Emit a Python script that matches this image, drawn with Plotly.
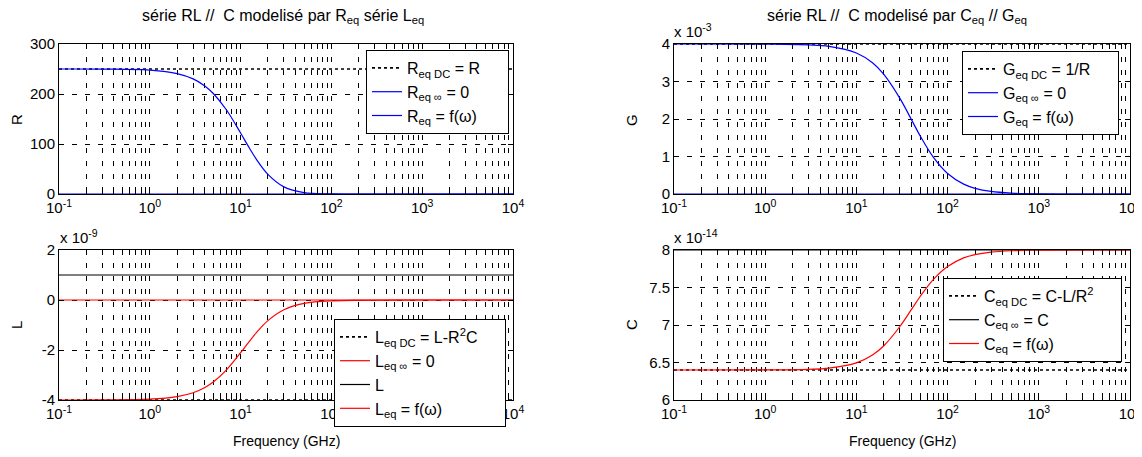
import plotly.graph_objects as go

# ---------------- data ----------------
freq_RL = [0.1, 0.3, 1, 2, 3, 4, 5, 7, 10, 12, 15, 20, 30, 50, 100, 1000, 10000]
req = [250, 249.8, 247.7, 240.8, 230.2, 216.6, 201, 168, 122, 97.2, 68.7, 39.2, 14.2, 2.87, 0.23, 0, 0]
leq = [-4.0, -3.997, -3.966, -3.865, -3.709, -3.509, -3.282, -2.792, -2.108, -1.733, -1.295,
       -0.824, -0.389, -0.137, -0.033, 0, 0]            # x 1e-9

freq_GC = [0.1, 1, 3, 5, 10, 15, 20, 30, 40, 50, 70, 100, 150, 200, 300, 500, 1000, 10000]
geq = [4, 3.997, 3.977, 3.938, 3.762, 3.50, 3.19, 2.55, 1.99, 1.551, 0.977, 0.547, 0.263,
       0.152, 0.069, 0.025, 0.0063, 0]                   # x 1e-3
ceq = [6.4, 6.401, 6.409, 6.425, 6.495, 6.6, 6.724, 6.98, 7.204, 7.38, 7.609, 7.781, 7.895,
       7.939, 7.972, 7.99, 7.9975, 8]                    # x 1e-14

f_span = [0.1, 10000]
R_dc, R_inf = 250, 0
L_dc, L_inf, L_val = -4, 0, 1
G_dc, G_inf = 4, 0
C_dc, C_inf = 6.4, 8

x_tickvals = [0.1, 1, 10, 100, 1000, 10000]
x_ticktext = ["10<sup>-1</sup>", "10<sup>0</sup>", "10<sup>1</sup>", "10<sup>2</sup>",
              "10<sup>3</sup>", "10<sup>4</sup>"]
x_minor = [k * 10 ** n for n in range(-1, 4) for k in range(2, 10)]

FONT = "Liberation Sans, Arial, sans-serif"
BLUE = "#0000ff"
RED = "#ff0000"
PAD = "\u00a0" * 5

fig = go.Figure()

def add(x, y, xa, ya, leg, name, color, dash="solid", width=1.2, shape="linear"):
    fig.add_trace(go.Scatter(x=x, y=y, xaxis=xa, yaxis=ya, legend=leg, name=name + PAD,
                             mode="lines", line=dict(color=color, dash=dash, width=width,
                                                     shape=shape, smoothing=1),
                             hoverinfo="skip"))

# top-left: R
add(f_span, [R_dc, R_dc], "x", "y", "legend", "R<sub>eq DC</sub> = R", "black", "dot", 1.6)
add(f_span, [R_inf, R_inf], "x", "y", "legend", "R<sub>eq ∞</sub> = 0", BLUE)
add(freq_RL, req, "x", "y", "legend", "R<sub>eq</sub> = f(ω)", BLUE, shape="spline")

# top-right: G
add(f_span, [G_dc, G_dc], "x2", "y2", "legend2", "G<sub>eq DC</sub> = 1/R", "black", "dot", 1.6)
add(f_span, [G_inf, G_inf], "x2", "y2", "legend2", "G<sub>eq ∞</sub> = 0", BLUE)
add(freq_GC, geq, "x2", "y2", "legend2", "G<sub>eq</sub> = f(ω)", BLUE, shape="spline")

# bottom-left: L
add(f_span, [L_dc, L_dc], "x3", "y3", "legend3", "L<sub>eq DC</sub> = L-R<sup>2</sup>C", "black", "dot", 1.6)
add(f_span, [L_inf, L_inf], "x3", "y3", "legend3", "L<sub>eq ∞</sub> = 0", RED)
add(f_span, [L_val, L_val], "x3", "y3", "legend3", "L", "black")
add(freq_RL, leq, "x3", "y3", "legend3", "L<sub>eq</sub> = f(ω)", RED, shape="spline")

# bottom-right: C
add(f_span, [C_dc, C_dc], "x4", "y4", "legend4", "C<sub>eq DC</sub> = C-L/R<sup>2</sup>", "black", "dot", 1.6)
add(f_span, [C_inf, C_inf], "x4", "y4", "legend4", "C<sub>eq ∞</sub> = C", "black")
add(freq_GC, ceq, "x4", "y4", "legend4", "C<sub>eq</sub> = f(ω)", RED, shape="spline")

OFF = 8  # page body margin
W, H = 1142 - OFF, 457 - OFF
def px_x(p):
    return (p - OFF) / W
def px_y(p):
    return 1 - (p - OFF) / H

xl = [px_x(59), px_x(513)]
xr = [px_x(674), px_x(1130)]
yt = [px_y(194), px_y(44)]
yb = [px_y(400), px_y(250)]

GRID_DASH = "5px,8px"
TICKFONT = dict(family=FONT, size=15, color="black")

def xaxis(domain, anchor):
    return dict(domain=domain, anchor=anchor, type="log", range=[-1, 4], automargin=False,
                tickmode="array", tickvals=x_tickvals, ticktext=x_ticktext,
                ticks="inside", ticklen=5, tickcolor="black", tickwidth=1,
                showline=True, linecolor="black", linewidth=1, mirror="ticks",
                showgrid=True, gridcolor="black", gridwidth=1, griddash=GRID_DASH,
                zeroline=False, tickfont=TICKFONT,
                minor=dict(tickmode="array", tickvals=x_minor, ticks="inside", ticklen=3,
                           tickcolor="black", showgrid=True, gridcolor="black",
                           gridwidth=1, griddash=GRID_DASH))

def yaxis(domain, anchor, rng, tv, tt):
    return dict(domain=domain, anchor=anchor, range=rng, tickmode="array", automargin=False,
                tickvals=tv, ticktext=tt,
                ticks="inside", ticklen=5, tickcolor="black", tickwidth=1,
                showline=True, linecolor="black", linewidth=1, mirror="ticks",
                showgrid=True, gridcolor="black", gridwidth=1, griddash=GRID_DASH,
                zeroline=False, tickfont=TICKFONT)

def legend(x, y):
    return dict(x=x, y=y, xanchor="left", yanchor="top", xref="paper", yref="paper",
                bgcolor="white", bordercolor="black", borderwidth=1,
                font=dict(family=FONT, size=16, color="black"),
                tracegroupgap=0, itemwidth=30)

fig.update_layout(
    template="none",
    width=W, height=H, margin=dict(l=0, r=0, t=0, b=0, pad=0, autoexpand=False),
    paper_bgcolor="white", plot_bgcolor="white",
    font=dict(family=FONT, color="black"),
    xaxis=xaxis(xl, "y"), yaxis=yaxis(yt, "x", [0, 300], [0, 100, 200, 300], ["0", "100", "200", "300"]),
    xaxis2=xaxis(xr, "y2"), yaxis2=yaxis(yt, "x2", [0, 4], [0, 1, 2, 3, 4], ["0", "1", "2", "3", "4"]),
    xaxis3=xaxis(xl, "y3"), yaxis3=yaxis(yb, "x3", [-4, 2], [-4, -2, 0, 2], ["-4", "-2", "0", "2"]),
    xaxis4=xaxis(xr, "y4"), yaxis4=yaxis(yb, "x4", [6, 8], [6, 6.5, 7, 7.5, 8], ["6", "6.5", "7", "7.5", "8"]),
    legend=legend(px_x(366), px_y(50)),
    legend2=legend(px_x(962), px_y(51)),
    legend3=legend(px_x(334), px_y(319)),
    legend4=legend(px_x(943), px_y(278)),
    showlegend=True,
)

def ann(text, x, y, size=14, angle=0, xanchor="center"):
    fig.add_annotation(text=text, x=px_x(x), y=px_y(y), xref="paper", yref="paper",
                       showarrow=False, font=dict(family=FONT, size=size, color="black"),
                       textangle=angle, xanchor=xanchor, yanchor="middle")

ann("série RL //  C modelisé par R<sub>eq</sub> série L<sub>eq</sub>", 283, 17, 16)
ann("série RL //  C modelisé par C<sub>eq</sub> // G<sub>eq</sub>", 897, 17, 16)
ann("x 10<sup>-3</sup>", 672, 30, 15, xanchor="left")
ann("x 10<sup>-9</sup>", 58, 236, 15, xanchor="left")
ann("x 10<sup>-14</sup>", 672, 236, 15, xanchor="left")
ann("R", 16, 120, 15, -90)
ann("L", 16, 325, 15, -90)
ann("G", 631, 120, 15, -90)
ann("C", 631, 325, 15, -90)
ann("Frequency (GHz)", 286, 441, 14)
ann("Frequency (GHz)", 902, 441, 14)

fig.write_html("out.html")
